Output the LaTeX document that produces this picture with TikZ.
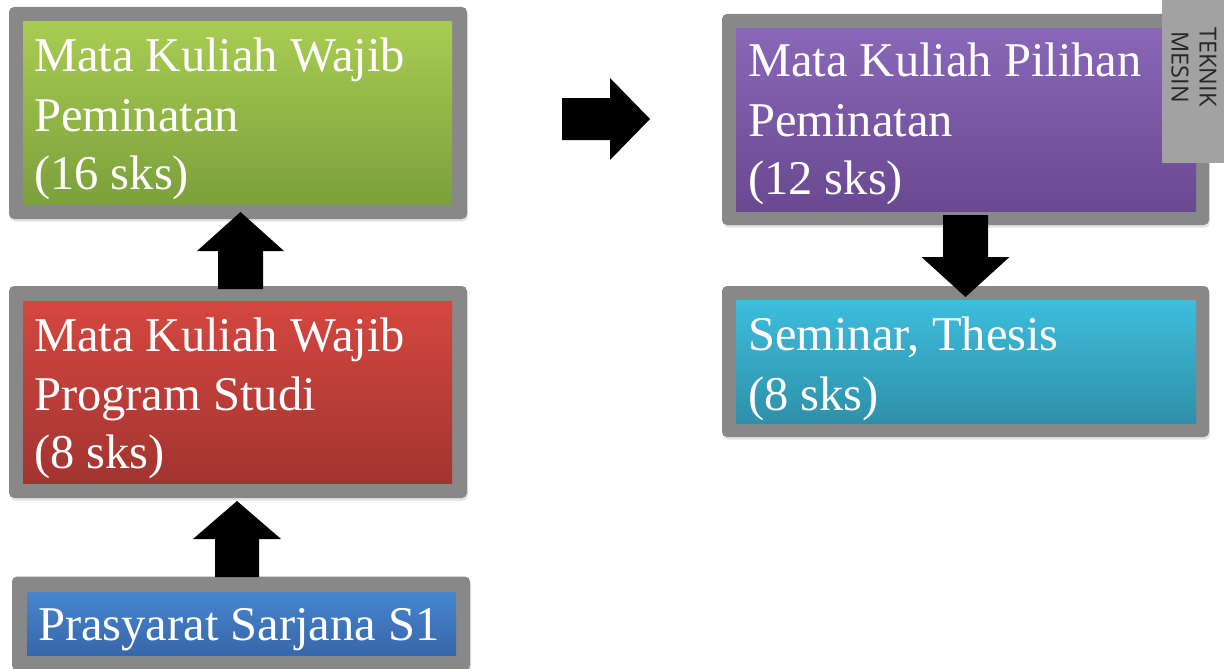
\documentclass[tikz,border=0pt]{standalone}
\usepackage{fontspec}
\setmainfont{Liberation Serif}
\newfontfamily\tagfont{Open Sans}
\usetikzlibrary{calc,shadows}

\definecolor{framegray}{HTML}{888888}
\definecolor{taggray}{HTML}{A2A2A2}
\definecolor{greenT}{HTML}{A8CC52}\definecolor{greenB}{HTML}{7CA03B}
\definecolor{redT}{HTML}{D4473F}\definecolor{redB}{HTML}{A33431}
\definecolor{blueT}{HTML}{4686D0}\definecolor{blueB}{HTML}{3866A8}
\definecolor{purpleT}{HTML}{8967B8}\definecolor{purpleB}{HTML}{694990}
\definecolor{cyanT}{HTML}{3EBDDD}\definecolor{cyanB}{HTML}{2E90A8}

\tikzset{
  frame/.style={fill=framegray, rounded corners=5pt, draw=none, inner sep=0pt, outer sep=0pt,
    drop shadow={shadow xshift=1pt, shadow yshift=-2.5pt, opacity=.22}},
  panel/.style={draw=none, inner sep=0pt, outer sep=0pt},
  line/.style={text=white, font=\fontsize{48.5}{58}\selectfont, inner sep=0pt, anchor=base west},
  pics/barrow/.style n args={4}{code={%
    % #1 length, #2 shaft half width, #3 head half width, #4 head length
    \fill[black] (0,-#2) -- ({#1-#4},-#2) -- ({#1-#4},-#3) -- (#1,0)
      -- ({#1-#4},#3) -- ({#1-#4},#2) -- (0,#2) -- cycle;}}
}

\begin{document}
\begin{tikzpicture}[x=1pt,y=-1pt]
\useasboundingbox (0,0) rectangle (1224,669);

% left column: frames and gradient panels
\node[frame, minimum width=458, minimum height=212] (gframe) at (238,113) {};
\node[panel, top color=greenT, bottom color=greenB, minimum width=429, minimum height=182] (green) at (237.5,113) {};

\node[frame, minimum width=458, minimum height=212] (rframe) at (238,392) {};
\node[panel, top color=redT, bottom color=redB, minimum width=429, minimum height=182] (red) at (237.5,392) {};

\node[frame, minimum width=458, minimum height=94] (bframe) at (241,623.5) {};
\node[panel, top color=blueT, bottom color=blueB, minimum width=429, minimum height=63] (blue) at (241.5,623.5) {};

% right column
\node[frame, minimum width=487, minimum height=211] (pframe) at (965.5,119.5) {};
\node[panel, top color=purpleT, bottom color=purpleB, minimum width=460, minimum height=182] (purple) at (966,120) {};

\node[frame, minimum width=487, minimum height=151] (cframe) at (965.5,361.5) {};
\node[panel, top color=cyanT, bottom color=cyanB, minimum width=460, minimum height=123] (cyan) at (966,361.5) {};

% texts
\node[line] at ($(green.north west)+(11,50)$) {Mata Kuliah Wajib};
\node[line] at ($(green.north west)+(11,109)$) {Peminatan};
\node[line] at ($(green.north west)+(11,167)$) {(16 sks)};

\node[line] at ($(red.north west)+(11,50)$) {Mata Kuliah Wajib};
\node[line] at ($(red.north west)+(11,109)$) {Program Studi};
\node[line] at ($(red.north west)+(11,167)$) {(8 sks)};

\node[line] at ($(blue.north west)+(11,48)$) {Prasyarat Sarjana S1};

\node[line] at ($(purple.north west)+(12,48)$) {Mata Kuliah Pilihan};
\node[line] at ($(purple.north west)+(12,107)$) {Peminatan};
\node[line] at ($(purple.north west)+(12,165)$) {(12 sks)};

\node[line] at ($(cyan.north west)+(12,50)$) {Seminar, Thesis};
\node[line] at ($(cyan.north west)+(12,110)$) {(8 sks)};

% block arrows between the boxes
\coordinate (upA) at (240.5,289);
\coordinate (upB) at (237,577);
\coordinate (rightA) at (562,119);
\coordinate (downA) at (965.5,215);
\pic[rotate=90] at (upA) {barrow={77}{22.5}{43.5}{39}};
\pic[rotate=90] at (upB) {barrow={76}{22}{44}{38}};
\pic at (rightA) {barrow={88}{21}{41}{40}};
\pic[rotate=-90] at (downA) {barrow={82}{22.5}{44}{40}};

% corner tag
\node[fill=taggray, draw=none, inner sep=0pt, minimum width=63, minimum height=165, anchor=north west] (tag) at (1162,-2) {};
\node[rotate=-90, align=center, text=black!85, font=\tagfont\fontsize{23.5}{28}\selectfont, inner sep=0pt] at (1194,67) {TEKNIK\\MESIN};
\end{tikzpicture}
\end{document}
